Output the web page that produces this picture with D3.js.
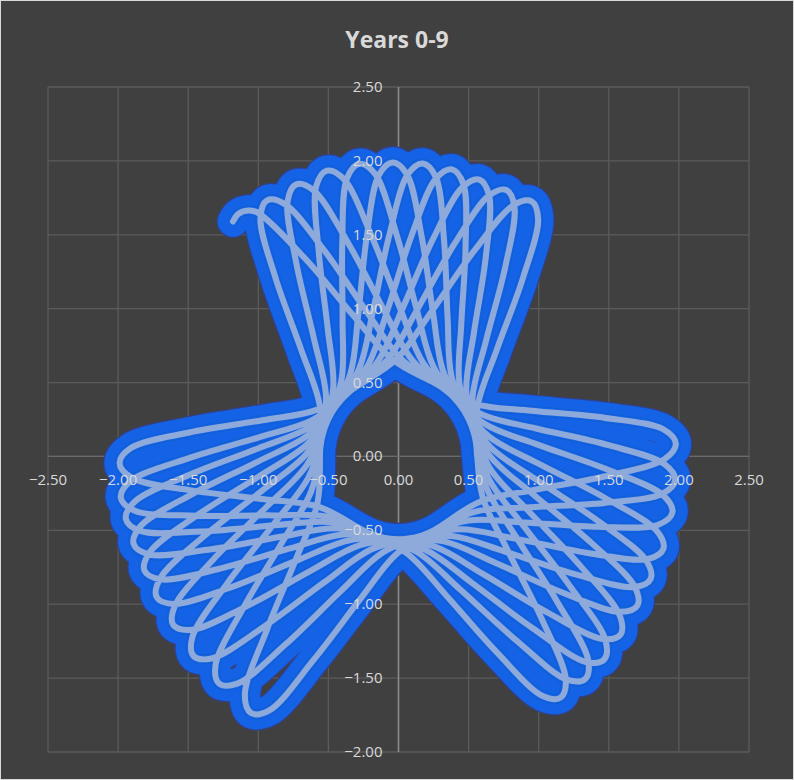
<!DOCTYPE html>
<html>
<head>
<meta charset="utf-8">
<script src="https://cdn.jsdelivr.net/npm/d3@7"></script>
<style>
  html, body { margin: 0; padding: 0; background: #d9d9d9; }
  svg { display: block; }
</style>
</head>
<body>
<div id="chart"></div>
<script>
// ---- chart data ----
const chartTitle = "Years 0-9";
const xTickValues = [-2.5, -2, -1.5, -1, -0.5, 0, 0.5, 1, 1.5, 2, 2.5];
const yTickValues = [-2, -1.5, -1, -0.5, 0, 0.5, 1, 1.5, 2, 2.5];
const xDomain = [-2.5, 2.5];
const yDomain = [-2, 2.5];

// Path of the curve, in order, as [direction in degrees, distance from origin]
const curvePoints = [
  [126.6,1.98],[124.9,2.00],[122.8,1.98],[121.3,1.93],[116.5,1.50],[108.5,1.00],[94.0,0.66],
  [63.25,0.56],
  [32.5,0.66],[18.0,1.00],[10.0,1.50],[5.5,1.90],[2.5,1.98],[-0.5,1.90],[-5.0,1.50],[-13.0,1.00],[-27.5,0.66],
  [-59.35,0.56],
  [-91.2,0.66],[-105.7,1.00],[-113.7,1.50],[-118.2,1.95],[-121.2,2.03],[-124.2,1.95],[-128.7,1.50],[-136.7,1.00],[-151.2,0.66],
  [178.6,0.56],
  [148.4,0.66],[133.9,1.00],[125.9,1.50],[121.4,1.89],[118.4,1.97],[115.4,1.89],[110.9,1.50],[102.9,1.00],[88.4,0.66],
  [56.9,0.56],
  [25.4,0.66],[10.9,1.00],[2.9,1.50],[-1.6,1.90],[-4.6,1.98],[-7.6,1.90],[-12.1,1.50],[-20.1,1.00],[-34.6,0.66],
  [-67.2,0.56],
  [-99.8,0.66],[-114.3,1.00],[-122.3,1.50],[-126.8,1.92],[-129.8,2.00],[-132.8,1.92],[-137.3,1.50],[-145.3,1.00],[-159.8,0.66],
  [170.9,0.56],
  [141.6,0.66],[127.1,1.00],[119.1,1.50],[114.6,1.90],[111.6,1.98],[108.6,1.90],[104.1,1.50],[96.1,1.00],[81.6,0.66],
  [50.3,0.56],
  [19.0,0.66],[4.5,1.00],[-3.5,1.50],[-8.0,1.91],[-11.0,1.99],[-14.0,1.91],[-18.5,1.50],[-26.5,1.00],[-41.0,0.66],
  [-74.15,0.56],
  [-107.3,0.66],[-121.8,1.00],[-129.8,1.50],[-134.3,1.91],[-137.3,1.99],[-140.3,1.91],[-144.8,1.50],[-152.8,1.00],[-167.3,0.66],
  [163.75,0.56],
  [134.8,0.66],[120.3,1.00],[112.3,1.50],[107.8,1.92],[104.8,2.00],[101.8,1.92],[97.3,1.50],[89.3,1.00],[74.8,0.66],
  [43.25,0.56],
  [11.7,0.66],[-2.8,1.00],[-10.8,1.50],[-15.3,1.91],[-18.3,1.99],[-21.3,1.91],[-25.8,1.50],[-33.8,1.00],[-48.3,0.66],
  [-81.45,0.56],
  [-114.6,0.66],[-129.1,1.00],[-137.1,1.50],[-141.6,1.89],[-144.6,1.97],[-147.6,1.89],[-152.1,1.50],[-160.1,1.00],[-174.6,0.66],
  [156.7,0.56],
  [128.0,0.66],[113.5,1.00],[105.5,1.50],[101.0,1.92],[98.0,2.00],[95.0,1.92],[90.5,1.50],[82.5,1.00],[68.0,0.66],
  [36.65,0.56],
  [5.3,0.66],[-9.2,1.00],[-17.2,1.50],[-21.7,1.90],[-24.7,1.98],[-27.7,1.90],[-32.2,1.50],[-40.2,1.00],[-54.7,0.66],
  [-87.9,0.56],
  [-121.1,0.66],[-135.6,1.00],[-143.6,1.50],[-148.1,1.89],[-151.1,1.97],[-154.1,1.89],[-158.6,1.50],[-166.6,1.00],[178.9,0.66],
  [150.05,0.56],
  [121.2,0.66],[106.7,1.00],[98.7,1.50],[94.2,1.91],[91.2,1.99],[88.2,1.91],[83.7,1.50],[75.7,1.00],[61.2,0.66],
  [30.3,0.56],
  [-0.6,0.66],[-15.1,1.00],[-23.1,1.50],[-27.6,1.90],[-30.6,1.98],[-33.6,1.90],[-38.1,1.50],[-46.1,1.00],[-60.6,0.66],
  [-93.75,0.56],
  [-126.9,0.66],[-141.4,1.00],[-149.4,1.50],[-153.9,1.89],[-156.9,1.97],[-159.9,1.89],[-164.4,1.50],[-172.4,1.00],[173.1,0.66],
  [144.05,0.56],
  [115.0,0.66],[100.5,1.00],[92.5,1.50],[88.0,1.91],[85.0,1.99],[82.0,1.91],[77.5,1.50],[69.5,1.00],[55.0,0.66],
  [23.85,0.56],
  [-7.3,0.66],[-21.8,1.00],[-29.8,1.50],[-34.3,1.91],[-37.3,1.99],[-40.3,1.91],[-44.8,1.50],[-52.8,1.00],[-67.3,0.66],
  [-99.95,0.56],
  [-132.6,0.66],[-147.1,1.00],[-155.1,1.50],[-159.6,1.90],[-162.6,1.98],[-165.6,1.90],[-170.1,1.50],[-178.1,1.00],[167.4,0.66],
  [138.15,0.56],
  [108.9,0.66],[94.4,1.00],[86.4,1.50],[81.9,1.90],[78.9,1.98],[75.9,1.90],[71.4,1.50],[63.4,1.00],[48.9,0.66],
  [17.9,0.56],
  [-13.1,0.66],[-27.6,1.00],[-35.6,1.50],[-40.1,1.93],[-43.1,2.01],[-46.1,1.93],[-50.6,1.50],[-58.6,1.00],[-73.1,0.66],
  [-105.4,0.56],
  [-137.7,0.66],[-152.2,1.00],[-160.2,1.50],[-164.7,1.91],[-167.7,1.99],[-170.7,1.91],[-175.2,1.50],[176.8,1.00],[162.3,0.66],
  [132.6,0.56],
  [102.9,0.66],[88.4,1.00],[80.4,1.50],[75.9,1.88],[72.9,1.96],[69.9,1.88],[65.4,1.50],[57.4,1.00],[42.9,0.66],
  [12.2,0.56],
  [-18.5,0.66],[-33.0,1.00],[-41.0,1.50],[-45.5,1.93],[-48.5,2.01],[-51.5,1.93],[-56.0,1.50],[-64.0,1.00],[-78.5,0.66],
  [-110.25,0.56],
  [-142.0,0.66],[-156.5,1.00],[-164.5,1.50],[-169.0,1.92],[-172.0,2.00],[-175.0,1.92],[-179.5,1.50],[172.5,1.00],[158.0,0.66],
  [127.45,0.56],
  [96.9,0.66],[82.4,1.00],[74.4,1.50],[69.9,1.88],[66.9,1.96],[63.9,1.88],[59.4,1.50],[51.4,1.00],[36.9,0.66],
  [6.15,0.56],
  [-24.6,0.66],[-39.1,1.00],[-47.1,1.50],[-51.6,1.92],[-54.6,2.00],[-57.6,1.92],[-62.1,1.50],[-70.1,1.00],[-84.6,0.66],
  [-116.65,0.56],
  [-148.7,0.66],[-163.2,1.00],[-171.2,1.50],[-175.7,1.91],[-178.7,1.99],[178.3,1.91],[173.8,1.50],[165.8,1.00],[151.3,0.66],
  [121.25,0.56],
  [91.2,0.66],[76.7,1.00],[68.7,1.50],[64.2,1.89],[61.2,1.97],[58.2,1.89],[53.7,1.50],[45.7,1.00],[31.2,0.66],
  [0.2,0.56]
];

// ---- layout ----
const W = 794, H = 780;
const plot = { left: 48, right: 749, top: 87, bottom: 752 };

const svg = d3.select("#chart").append("svg")
  .attr("width", W).attr("height", H);

svg.append("rect").attr("x", 1).attr("y", 1)
  .attr("width", W - 2).attr("height", H - 2)
  .attr("fill", "#404040");

const x = d3.scaleLinear().domain(xDomain).range([plot.left, plot.right]);
const y = d3.scaleLinear().domain(yDomain).range([plot.bottom, plot.top]);

const fmt = d3.format(".2f");
const gridColor = "#5b5b5b";
const textColor = "#d9d9d9";
const font = "'Open Sans', 'Liberation Sans', sans-serif";

// gridlines
const grid = svg.append("g");
grid.selectAll("line.v").data(xTickValues).join("line")
  .attr("x1", d => x(d)).attr("x2", d => x(d))
  .attr("y1", plot.top).attr("y2", plot.bottom)
  .attr("stroke", gridColor).attr("stroke-width", 1.3);
grid.selectAll("line.h").data(yTickValues).join("line")
  .attr("y1", d => y(d)).attr("y2", d => y(d))
  .attr("x1", plot.left).attr("x2", plot.right)
  .attr("stroke", gridColor).attr("stroke-width", 1.3);

// axis lines through the origin
svg.append("line")
  .attr("x1", x(0)).attr("x2", x(0)).attr("y1", plot.top).attr("y2", plot.bottom)
  .attr("stroke", "#8c8c8c").attr("stroke-width", 1.5);
svg.append("line")
  .attr("x1", plot.left).attr("x2", plot.right).attr("y1", y(0)).attr("y2", y(0))
  .attr("stroke", "#6a6a6a").attr("stroke-width", 1.3);

// curve
const rad = Math.PI / 180;
const line = d3.line()
  .x(d => x(d[1] * Math.cos(d[0] * rad)))
  .y(d => y(d[1] * Math.sin(d[0] * rad)))
  .curve(d3.curveCatmullRom.alpha(0.5));
const pathD = line(curvePoints);

svg.append("path").attr("d", pathD)
  .attr("fill", "none").attr("stroke", "#33408a")
  .attr("stroke-width", 33).attr("stroke-linejoin", "round").attr("stroke-linecap", "round");
svg.append("path").attr("d", pathD)
  .attr("fill", "none").attr("stroke", "#1462e6")
  .attr("stroke-width", 30.5).attr("stroke-linejoin", "round").attr("stroke-linecap", "round");
svg.append("path").attr("d", pathD)
  .attr("fill", "none").attr("stroke", "#0d5a8c").attr("stroke-opacity", 0.3)
  .attr("stroke-width", 10);
svg.append("path").attr("d", pathD)
  .attr("fill", "none").attr("stroke", "#1462e6")
  .attr("stroke-width", 8.5);
svg.append("path").attr("d", pathD)
  .attr("fill", "none").attr("stroke", "#8eaadb")
  .attr("stroke-width", 6).attr("stroke-linejoin", "round").attr("stroke-linecap", "round");

// tick labels
svg.append("g").selectAll("text").data(xTickValues).join("text")
  .attr("x", d => x(d)).attr("y", y(0) + 29)
  .attr("text-anchor", "middle")
  .attr("font-family", font).attr("font-size", 15)
  .attr("fill", textColor)
  .text(d => fmt(d));
svg.append("g").selectAll("text").data(yTickValues).join("text")
  .attr("x", x(0) - 16).attr("y", d => y(d) + 5)
  .attr("text-anchor", "end")
  .attr("font-family", font).attr("font-size", 15)
  .attr("fill", textColor)
  .text(d => fmt(d));

// title
svg.append("text")
  .attr("x", 397).attr("y", 48)
  .attr("text-anchor", "middle")
  .attr("font-family", font).attr("font-weight", "bold").attr("font-size", 23)
  .attr("fill", textColor)
  .text(chartTitle);
</script>
</body>
</html>
